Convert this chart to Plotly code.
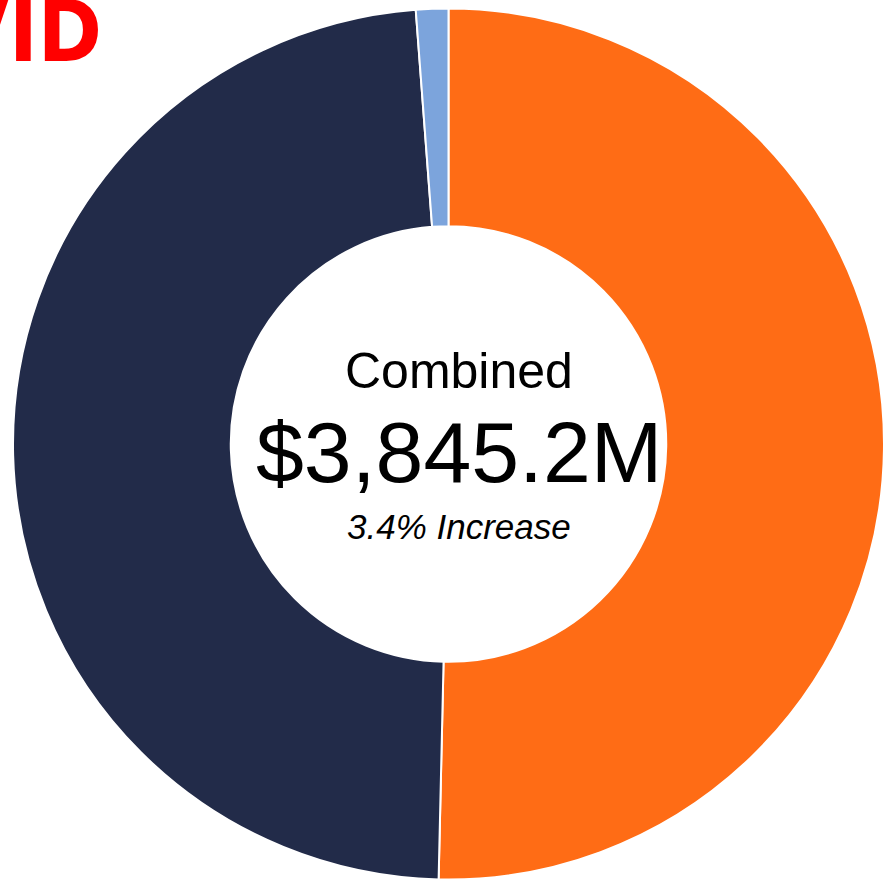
import plotly.graph_objects as go

labels = ["Orange segment", "Navy segment", "Light blue segment"]
values = [1936.5, 1862.6, 46.1]
colors = ["#FF6C15", "#222B49", "#7CA4DC"]
center_title = "Combined"
center_total = "$3,845.2M"
center_change = "3.4% Increase"
header_text = "COVID"

W, H = 884, 882

fig = go.Figure()
fig.add_trace(go.Pie(
    labels=labels,
    values=values,
    hole=0.5,
    sort=False,
    direction="clockwise",
    rotation=0,
    marker=dict(colors=colors, line=dict(color="white", width=2)),
    textinfo="none",
    hoverinfo="label+value",
    domain=dict(x=[13 / W, 1], y=[1 - 881 / H, 1 - 7 / H]),
))

cx = 459 / W
fig.add_annotation(x=cx, y=1 - 371 / H, xref="paper", yref="paper",
                   text=center_title, showarrow=False,
                   font=dict(family="Liberation Sans, Arial", size=50, color="black"),
                   xanchor="center", yanchor="middle")
fig.add_annotation(x=cx, y=1 - 452 / H, xref="paper", yref="paper",
                   text=center_total, showarrow=False,
                   font=dict(family="Liberation Sans, Arial", size=86, color="black"),
                   xanchor="center", yanchor="middle")
fig.add_annotation(x=cx, y=1 - 526 / H, xref="paper", yref="paper",
                   text="<i>" + center_change + "</i>", showarrow=False,
                   font=dict(family="Liberation Sans, Arial", size=35, color="black"),
                   xanchor="center", yanchor="middle")
fig.add_annotation(x=104 / W, y=1 - 31 / H, xref="paper", yref="paper",
                   text="<b>" + header_text + "</b>", showarrow=False,
                   font=dict(family="Liberation Sans Narrow, DejaVu Sans Condensed", size=86, color="#FF0000"),
                   xanchor="right", yanchor="middle")

fig.update_layout(width=W, height=H, margin=dict(l=0, r=0, t=0, b=0),
                  paper_bgcolor="white", plot_bgcolor="white", showlegend=False)

fig.write_html("out.html")
